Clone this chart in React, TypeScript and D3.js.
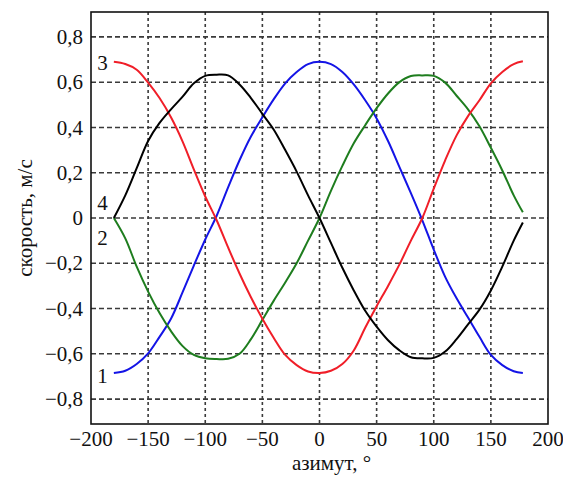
import React from 'react';
import * as d3 from 'd3';

// азимут, градусы
const azimuth = [
  -180, -170, -160, -150, -140, -130, -120, -110, -100, -90,
  -80, -70, -60, -50, -40, -30, -20, -10, 0, 10,
  20, 30, 40, 50, 60, 70, 80, 90, 100, 110,
  120, 130, 140, 150, 160, 170, 178,
];

// кривая 1 (синяя)
const speed1 = [
  -0.685, -0.675, -0.645, -0.598, -0.525, -0.445, -0.33, -0.21, -0.095, 0.01,
  0.135, 0.255, 0.36, 0.445, 0.525, 0.595, 0.645, 0.68, 0.69, 0.68,
  0.645, 0.59, 0.52, 0.44, 0.34, 0.225, 0.11, -0.01, -0.14, -0.26,
  -0.355, -0.44, -0.525, -0.605, -0.65, -0.677, -0.685,
];

// кривая 2 (зелёная)
const speed2 = [
  0, -0.09, -0.215, -0.325, -0.42, -0.5, -0.565, -0.605, -0.62, -0.623,
  -0.622, -0.6, -0.535, -0.45, -0.365, -0.285, -0.2, -0.1, 0, 0.12,
  0.23, 0.33, 0.41, 0.485, 0.55, 0.6, 0.627, 0.63, 0.628, 0.598,
  0.54, 0.48, 0.405, 0.31, 0.21, 0.1, 0.025,
];

// кривая 3 (красная)
const speed3 = [
  0.69, 0.68, 0.655, 0.598, 0.53, 0.445, 0.34, 0.215, 0.095, -0.01,
  -0.13, -0.245, -0.35, -0.445, -0.53, -0.605, -0.65, -0.678, -0.685, -0.675,
  -0.645, -0.585, -0.485, -0.39, -0.3, -0.205, -0.1, 0, 0.13, 0.255,
  0.365, 0.45, 0.52, 0.595, 0.645, 0.68, 0.692,
];

// кривая 4 (чёрная)
const speed4 = [
  0, 0.1, 0.22, 0.34, 0.42, 0.48, 0.535, 0.595, 0.628, 0.633,
  0.63, 0.59, 0.53, 0.46, 0.39, 0.3, 0.205, 0.1, 0, -0.11,
  -0.22, -0.32, -0.41, -0.48, -0.54, -0.585, -0.615, -0.62, -0.618, -0.59,
  -0.535, -0.47, -0.405, -0.32, -0.215, -0.1, -0.02,
];

const xTicks = [-200, -150, -100, -50, 0, 50, 100, 150, 200];
const yTicks = [-0.8, -0.6, -0.4, -0.2, 0, 0.2, 0.4, 0.6, 0.8];

const series = [
  { name: '1', values: speed1, color: '#1414e6', dy: 10 },
  { name: '2', values: speed2, color: '#1e7d1e', dy: 27 },
  { name: '3', values: speed3, color: '#f01e28', dy: 8 },
  { name: '4', values: speed4, color: '#000000', dy: -8 },
];

const width = 563;
const height = 482;
const font = "'Liberation Serif', 'Times New Roman', Tinos, 'DejaVu Serif', serif";

export default function App() {
  const xScale = d3.scaleLinear().domain([-200, 200]).range([91, 548]);
  const yScale = d3.scaleLinear().domain([-0.91, 0.91]).range([424, 12]);

  const [x0, x1] = xScale.range();
  const [y0, y1] = yScale.range();

  const fmtX = (v: number) => (v < 0 ? '\u2212' + Math.abs(v) : String(v));
  const fmtY = (v: number) => {
    if (v === 0) return '0';
    const s = Math.abs(v).toFixed(1).replace('.', ',');
    return v < 0 ? '\u2212' + s : s;
  };

  const lineGen = d3
    .line<number>()
    .x((d, i) => xScale(azimuth[i]))
    .y(d => yScale(d))
    .curve(d3.curveCatmullRom.alpha(0.5));

  const textStyle = { fontFamily: font, fontSize: 21 };

  return (
    <svg
      width={width}
      height={height}
      style={{ position: 'absolute', left: 0, top: 0, background: '#fff' }}
    >
      <rect width={width} height={height} fill="#fff" />
      {/* сетка */}
      <g stroke="#3a3a3a" strokeWidth={1.6}>
        {yTicks.map(t => (
          <line
            key={'gy' + t}
            x1={x0}
            x2={x1}
            y1={yScale(t)}
            y2={yScale(t)}
            strokeDasharray="5 3"
          />
        ))}
        {xTicks.slice(1, -1).map(t => (
          <line
            key={'gx' + t}
            x1={xScale(t)}
            x2={xScale(t)}
            y1={y1}
            y2={y0}
            strokeDasharray="3 3"
          />
        ))}
      </g>

      {series.map(s => (
        <path
          key={s.name}
          d={lineGen(s.values) || ''}
          fill="none"
          stroke={s.color}
          strokeWidth={2}
          strokeLinejoin="round"
        />
      ))}

      <rect
        x={x0}
        y={y1}
        width={x1 - x0}
        height={y0 - y1}
        fill="none"
        stroke="#111"
        strokeWidth={1.6}
      />

      {/* подписи кривых */}
      {series.map(s => (
        <text
          key={'lbl' + s.name}
          x={xScale(azimuth[0]) - 6}
          y={yScale(s.values[0]) + s.dy}
          textAnchor="end"
          style={textStyle}
          fill="#111"
        >
          {s.name}
        </text>
      ))}

      {/* ось Y */}
      {yTicks.map(t => (
        <text
          key={'ty' + t}
          x={x0 - 8}
          y={yScale(t)}
          dy="0.34em"
          textAnchor="end"
          style={textStyle}
          fill="#111"
        >
          {fmtY(t)}
        </text>
      ))}
      {/* ось X */}
      {xTicks.map(t => (
        <text
          key={'tx' + t}
          x={xScale(t)}
          y={y0 + 22}
          textAnchor="middle"
          style={textStyle}
          fill="#111"
        >
          {fmtX(t)}
        </text>
      ))}

      <text
        x={(x0 + x1) / 2 + 12}
        y={470}
        textAnchor="middle"
        style={textStyle}
        fill="#111"
      >
        азимут, °
      </text>
      <text
        transform={`translate(32,${(y0 + y1) / 2}) rotate(-90)`}
        textAnchor="middle"
        style={textStyle}
        fill="#111"
      >
        скорость, м/с
      </text>
    </svg>
  );
}
